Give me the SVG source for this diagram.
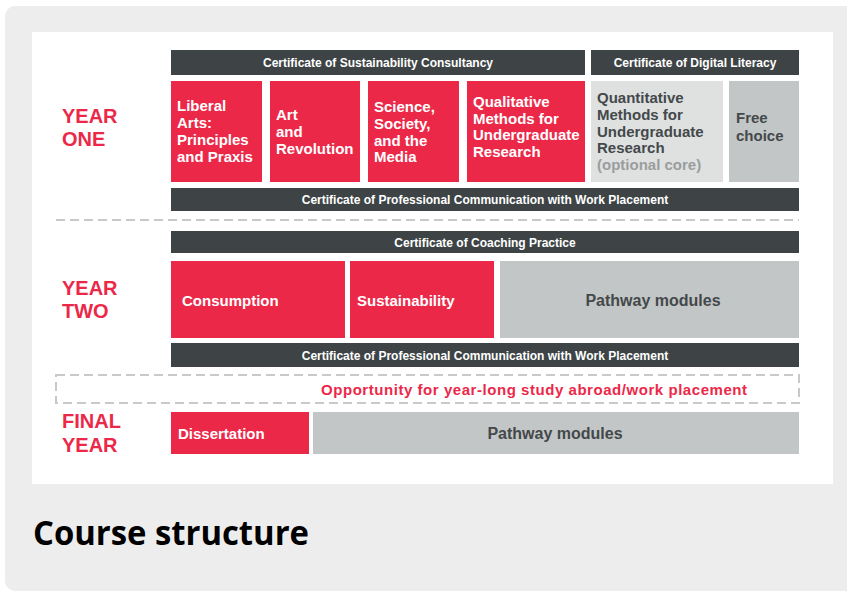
<svg xmlns="http://www.w3.org/2000/svg" width="847" height="592" viewBox="0 0 847 592">
<style>
.bar{fill:#3e4446}
.red{fill:#ec2849}
.lg{fill:#dfe1e1}
.mg{fill:#c3c6c6}
.ct{font-family:"Liberation Sans",Arial,sans-serif;font-weight:bold;font-size:12px;fill:#ffffff;text-anchor:middle}
.mt{font-family:"Liberation Sans",Arial,sans-serif;font-weight:bold;font-size:15px;fill:#ffffff}
.gt{font-family:"Liberation Sans",Arial,sans-serif;font-weight:bold;font-size:15px;fill:#43494b}
.yl{font-family:"Liberation Sans",Arial,sans-serif;font-weight:bold;font-size:20px;fill:#ec2849}
.dash{fill:none;stroke:#c9c9c9;stroke-width:2;stroke-dasharray:9 5}
</style>
<rect x="5" y="6" width="860" height="585" rx="10" fill="#ededed"/>
<rect x="32" y="32" width="801" height="452" fill="#ffffff"/>

<g id="labels">
<text class="yl" x="62" y="123">YEAR</text>
<text class="yl" x="62" y="146">ONE</text>
<text class="yl" x="62" y="295">YEAR</text>
<text class="yl" x="62" y="318">TWO</text>
<text class="yl" x="62" y="428">FINAL</text>
<text class="yl" x="62" y="452">YEAR</text>
</g>

<g id="connectors">
<line class="dash" x1="56" y1="220" x2="799" y2="220"/>
</g>

<g id="cert-sustainability"><rect class="bar" x="171" y="50" width="414" height="25"/><text class="ct" x="378" y="67">Certificate of Sustainability Consultancy</text></g>
<g id="cert-digital"><rect class="bar" x="591" y="50" width="208" height="25"/><text class="ct" x="695" y="67">Certificate of Digital Literacy</text></g>

<g id="liberal-arts"><rect class="red" x="171" y="81" width="91" height="101"/>
<text class="mt"><tspan x="177" y="111">Liberal</tspan><tspan x="177" y="128">Arts:</tspan><tspan x="177" y="145">Principles</tspan><tspan x="177" y="162">and Praxis</tspan></text></g>
<g id="art-revolution"><rect class="red" x="270" y="81" width="90" height="101"/>
<text class="mt"><tspan x="276" y="120">Art</tspan><tspan x="276" y="137">and</tspan><tspan x="276" y="154">Revolution</tspan></text></g>
<g id="science-society"><rect class="red" x="368" y="81" width="91" height="101"/>
<text class="mt"><tspan x="374" y="112">Science,</tspan><tspan x="374" y="129">Society,</tspan><tspan x="374" y="146">and the</tspan><tspan x="374" y="162">Media</tspan></text></g>
<g id="qualitative"><rect class="red" x="467" y="81" width="118" height="101"/>
<text class="mt"><tspan x="473" y="107">Qualitative</tspan><tspan x="473" y="124">Methods for</tspan><tspan x="473" y="140">Undergraduate</tspan><tspan x="473" y="157">Research</tspan></text></g>
<g id="quantitative"><rect class="lg" x="591" y="81" width="132" height="101"/>
<text class="gt"><tspan x="597" y="103">Quantitative</tspan><tspan x="597" y="120">Methods for</tspan><tspan x="597" y="137">Undergraduate</tspan><tspan x="597" y="153">Research</tspan><tspan x="597" y="170" fill="#9a9d9e">(optional core)</tspan></text></g>
<g id="free-choice"><rect class="mg" x="729" y="81" width="70" height="101"/>
<text class="gt"><tspan x="736" y="123">Free</tspan><tspan x="736" y="141">choice</tspan></text></g>
<g id="cert-profcomm-1"><rect class="bar" x="171" y="188" width="628" height="23"/><text class="ct" x="485" y="204">Certificate of Professional Communication with Work Placement</text></g>

<g id="cert-coaching"><rect class="bar" x="171" y="231" width="628" height="22"/><text class="ct" x="485" y="247">Certificate of Coaching Practice</text></g>
<g id="consumption"><rect class="red" x="171" y="261" width="174" height="77"/><text class="mt" x="182" y="306">Consumption</text></g>
<g id="sustainability"><rect class="red" x="350" y="261" width="144" height="77"/><text class="mt" x="357" y="306">Sustainability</text></g>
<g id="pathway-2"><rect class="mg" x="500" y="261" width="299" height="77"/><text class="gt" x="653" y="306" text-anchor="middle" font-size="16" style="font-size:16px">Pathway modules</text></g>
<g id="cert-profcomm-2"><rect class="bar" x="171" y="343" width="628" height="24"/><text class="ct" x="485" y="360">Certificate of Professional Communication with Work Placement</text></g>

<g id="study-abroad"><rect class="dash" x="56" y="375" width="743" height="28"/>
<text class="mt" x="321" y="395" style="fill:#ec2849" textLength="426" lengthAdjust="spacing">Opportunity for year-long study abroad/work placement</text></g>

<g id="dissertation"><rect class="red" x="171" y="412" width="138" height="42"/><text class="mt" x="178" y="439">Dissertation</text></g>
<g id="pathway-final"><rect class="mg" x="313" y="412" width="486" height="42"/><text class="gt" x="555" y="439" text-anchor="middle" style="font-size:16px">Pathway modules</text></g>

<text x="33" y="545" font-family="'Open Sans','Liberation Sans',sans-serif" font-weight="bold" font-size="34" fill="#000000" textLength="276" lengthAdjust="spacingAndGlyphs">Course structure</text>
</svg>
